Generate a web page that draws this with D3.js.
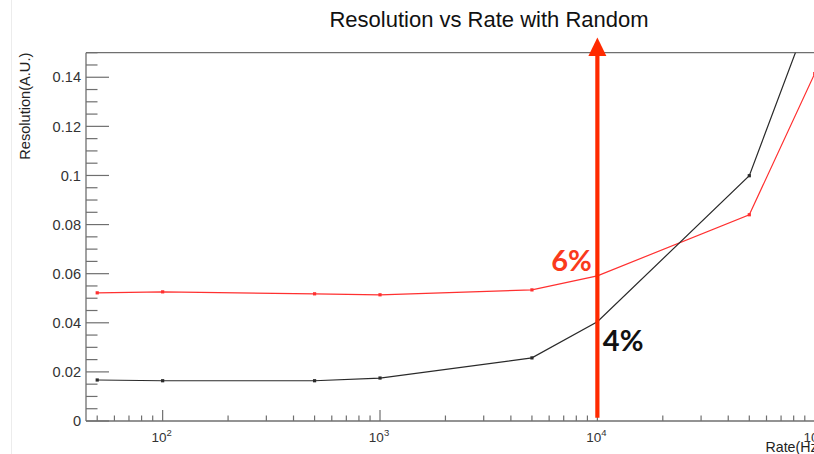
<!DOCTYPE html>
<html>
<head>
<meta charset="utf-8">
<script src="https://cdn.jsdelivr.net/npm/d3@7"></script>
<style>
  html, body { margin: 0; padding: 0; background: #fff; overflow: hidden; }
  svg { display: block; }
</style>
</head>
<body>
<div id="chart"></div>
<script>
// Rate points (Hz) and measured resolution for the two configurations
const rates = [50, 100, 500, 1000, 5000, 10000, 50000, 100000];
const resolutionBlack = [0.0167, 0.0164, 0.0164, 0.0175, 0.0257, 0.0404, 0.0999, 0.171];
const resolutionRed   = [0.0522, 0.0526, 0.0518, 0.0514, 0.0534, 0.0591, 0.0840, 0.1415];
const yTicks = [0, 0.02, 0.04, 0.06, 0.08, 0.1, 0.12, 0.14];
const yTickLabels = ["0", "0.02", "0.04", "0.06", "0.08", "0.1", "0.12", "0.14"];
const xDecades = [100, 1000, 10000, 100000];
const xDecadeExponents = ["2", "3", "4", "5"];
const markerRate = 10000;
const markerLabels = [
  { text: "6%", value: resolutionRed[5], color: "#fa3a1c" },
  { text: "4%", value: resolutionBlack[5], color: "#111" }
];

const W = 814, H = 454;
const frame = { left: 86, right: 822, top: 52.7, bottom: 421 };

const svg = d3.select("#chart").append("svg")
  .attr("width", W).attr("height", H);

const x = d3.scaleLog().domain([44.4, 1.08e5]).range([frame.left, frame.right]);
const y = d3.scaleLinear().domain([0, 0.15]).range([frame.bottom, frame.top]);

const axisColor = "#6f6f6f";
const labelFont = "'Liberation Sans', Arial, Helvetica, sans-serif";

// canvas edge line on the far left
svg.append("line").attr("x1", 11.5).attr("x2", 11.5).attr("y1", 0).attr("y2", H)
  .attr("stroke", "#ececec").attr("stroke-width", 1);

// Title
svg.append("text")
  .attr("x", 489).attr("y", 26.5)
  .attr("text-anchor", "middle")
  .attr("font-family", labelFont)
  .attr("font-size", 22)
  .attr("fill", "#111")
  .text("Resolution vs Rate with Random");

// Frame: left and bottom axes, top border
const g = svg.append("g");
g.append("line").attr("x1", frame.left).attr("x2", frame.left)
  .attr("y1", frame.top).attr("y2", frame.bottom)
  .attr("stroke", axisColor).attr("stroke-width", 1.3);
g.append("line").attr("x1", frame.left).attr("x2", frame.right)
  .attr("y1", frame.bottom).attr("y2", frame.bottom)
  .attr("stroke", axisColor).attr("stroke-width", 1.3);
g.append("line").attr("x1", frame.left).attr("x2", frame.right)
  .attr("y1", frame.top).attr("y2", frame.top)
  .attr("stroke", axisColor).attr("stroke-width", 1.3);

// Y axis ticks (major every 0.02, minor every 0.005) drawn inward
const yMinor = d3.range(0, 0.1501, 0.005);
yMinor.forEach(v => {
  const isMajor = Math.abs(v / 0.02 - Math.round(v / 0.02)) < 1e-6;
  g.append("line")
    .attr("x1", frame.left).attr("x2", frame.left + (isMajor ? 23 : 11.5))
    .attr("y1", y(v)).attr("y2", y(v))
    .attr("stroke", axisColor).attr("stroke-width", 1.2);
});
yTicks.forEach((v, i) => {
  g.append("text")
    .attr("x", 81).attr("y", y(v) + 5.2)
    .attr("text-anchor", "end")
    .attr("font-family", labelFont)
    .attr("font-size", 14.6)
    .attr("fill", "#333")
    .text(yTickLabels[i]);
});

// X axis ticks on log scale (decades long, 2..9 short)
const xMinor = [];
[10, 100, 1000, 10000].forEach(d => {
  for (let k = 1; k <= 9; k++) xMinor.push(d * k);
});
xMinor.push(100000);
xMinor.filter(v => v >= x.domain()[0] && v <= x.domain()[1]).forEach(v => {
  const isMajor = xDecades.includes(v);
  g.append("line")
    .attr("x1", x(v)).attr("x2", x(v))
    .attr("y1", frame.bottom).attr("y2", frame.bottom - (isMajor ? 11 : 5.5))
    .attr("stroke", axisColor).attr("stroke-width", 1.2);
});
xDecades.forEach((v, i) => {
  const t = g.append("text")
    .attr("x", x(v) - 1).attr("y", 442)
    .attr("text-anchor", "middle")
    .attr("font-family", labelFont)
    .attr("font-size", 13.5)
    .attr("fill", "#333");
  t.append("tspan").text("10");
  t.append("tspan").attr("dy", -6).attr("font-size", 9.5).text(xDecadeExponents[i]);
});

// Axis titles
svg.append("text")
  .attr("transform", `translate(29.5, ${frame.top}) rotate(-90)`)
  .attr("text-anchor", "end")
  .attr("font-family", labelFont)
  .attr("font-size", 14.6)
  .attr("fill", "#222")
  .text("Resolution(A.U.)");
svg.append("text")
  .attr("x", 765.5).attr("y", 451.5)
  .attr("font-family", labelFont)
  .attr("font-size", 14.2)
  .attr("fill", "#222")
  .text("Rate(Hz)");

// Series lines and markers, clipped to the frame
svg.append("clipPath").attr("id", "frameClip")
  .append("rect")
  .attr("x", frame.left).attr("y", frame.top)
  .attr("width", frame.right - frame.left).attr("height", frame.bottom - frame.top);

const plot = svg.append("g").attr("clip-path", "url(#frameClip)");
const line = d3.line().x(d => x(d[0])).y(d => y(d[1]));

const series = [
  { values: resolutionRed, color: "#ff3030" },
  { values: resolutionBlack, color: "#2a2a2a" }
];
series.forEach(s => {
  const pts = rates.map((r, i) => [r, s.values[i]]);
  plot.append("path").datum(pts)
    .attr("d", line)
    .attr("fill", "none")
    .attr("stroke", s.color)
    .attr("stroke-width", 1.2);
  plot.selectAll(null).data(pts).enter().append("rect")
    .attr("x", d => x(d[0]) - 1.6).attr("y", d => y(d[1]) - 1.6)
    .attr("width", 3.2).attr("height", 3.2)
    .attr("fill", s.color);
});

// Vertical marker arrow at the reference rate
const arrowColor = "#ff2a00";
const ax = x(markerRate);
const yBase = y(0.0013), yTip = y(0.1562);
svg.append("line")
  .attr("x1", ax).attr("x2", ax)
  .attr("y1", yBase).attr("y2", yTip + 14)
  .attr("stroke", arrowColor).attr("stroke-width", 4.2);
svg.append("path")
  .attr("d", `M${ax},${yTip} L${ax - 9},${yTip + 18.5} L${ax + 9},${yTip + 18.5} Z`)
  .attr("fill", arrowColor);

// Percentage labels beside the arrow
const pctFont = "Lato, 'Open Sans', sans-serif";
svg.append("text")
  .attr("x", ax - 5.5).attr("y", y(markerLabels[0].value) - 4.5)
  .attr("text-anchor", "end")
  .attr("font-family", pctFont).attr("font-weight", 700)
  .attr("font-size", 29)
  .attr("fill", markerLabels[0].color)
  .text(markerLabels[0].text);
svg.append("text")
  .attr("x", ax + 5.5).attr("y", y(markerLabels[1].value) + 29.5)
  .attr("text-anchor", "start")
  .attr("font-family", pctFont).attr("font-weight", 700)
  .attr("font-size", 29)
  .attr("fill", markerLabels[1].color)
  .text(markerLabels[1].text);
</script>
</body>
</html>
